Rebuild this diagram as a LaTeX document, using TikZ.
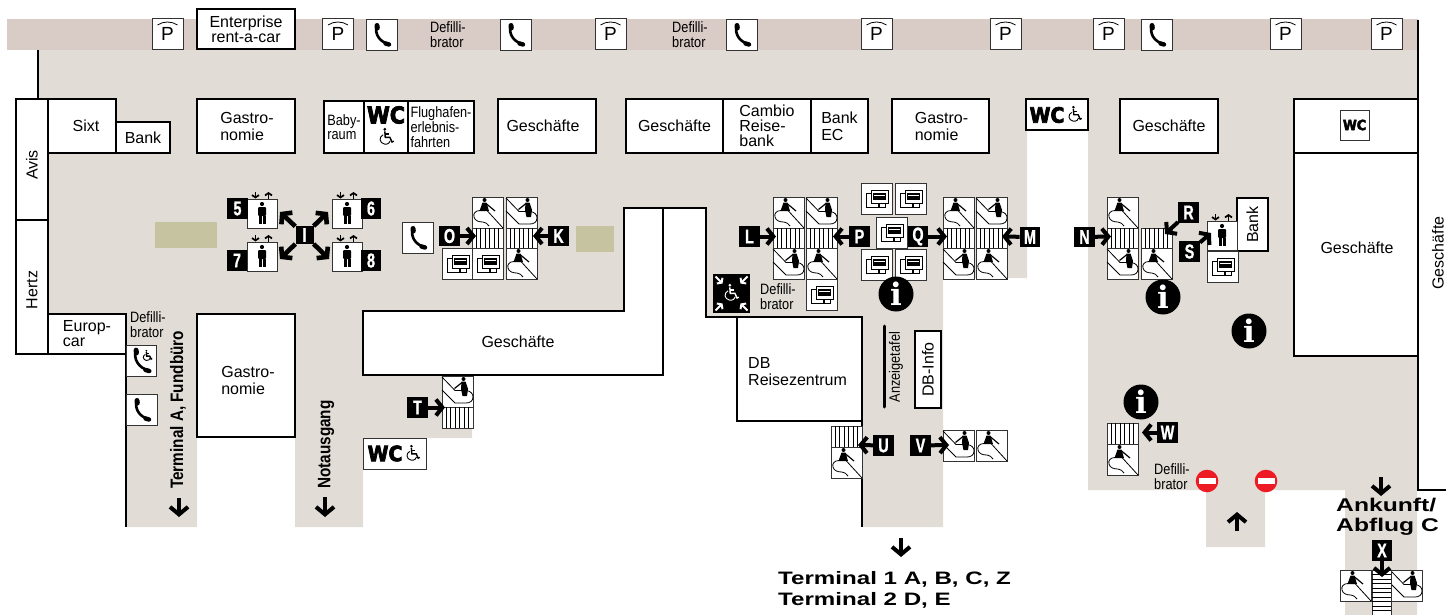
\documentclass[tikz,border=0pt]{standalone}
\usepackage{fontspec}
\setmainfont{Liberation Sans}
\newfontfamily\narrowfont[FakeStretch=0.85]{Liberation Sans}
\newfontfamily\tagfont[FakeStretch=0.72,FakeBold=1]{Liberation Sans}
\newfontfamily\widefont[FakeStretch=1.34]{Liberation Sans}
\newfontfamily\wcfont[FakeBold=3.5,FakeStretch=0.9]{DejaVu Sans}
\newfontfamily\infofont{DejaVu Serif}
\usetikzlibrary{arrows.meta}
\usetikzlibrary{calc}
\definecolor{floorcol}{HTML}{E1DDD6}
\definecolor{bandcol}{HTML}{D9CBC6}
\definecolor{olivecol}{HTML}{C6C3A1}
\definecolor{stopcol}{HTML}{ED1C24}
\tikzset{
	wall/.style={line width=1.6pt},
	iconbox/.style={draw=black!80,line width=.9pt,fill=white},
	shop/.style={draw,line width=1.6pt,fill=white,inner sep=0pt,align=left,font=\fontsize{16}{17}\selectfont},
	plain/.style={inner sep=0pt,align=left,font=\fontsize{16}{17}\selectfont},
	thin text/.style={inner sep=0pt,align=left,font=\narrowfont\fontsize{15}{15}\selectfont},
	defi/.style={thin text,anchor=west},
	tag/.style={fill=black,text=white,inner sep=0pt,minimum size=20.5pt,font=\tagfont\bfseries\fontsize{20}{20}\selectfont},
	tagarrow/.style={line width=4pt,-{Straight Barb[length=6.5pt,width=16pt]}},
	bigarrow/.style={line width=4pt,-{Straight Barb[length=7.5pt,width=18pt]}},
	pbox/.style={draw=black!80,line width=.9pt,fill=white,inner sep=0pt,minimum size=31pt,font=\fontsize{19}{19}\selectfont},
	wcsign/.style={inner sep=0pt,font=\wcfont\bfseries\fontsize{23}{23}\selectfont},
	infospot/.style={circle,fill=black,text=white,inner sep=0pt,minimum size=35pt,font=\infofont\bfseries\fontsize{31}{31}\selectfont},
	pics/esca/.style={code={
		\draw[iconbox] (0,0) rectangle (31,31);
		\draw[line width=.8pt] (31,31) -- (15,13.5) -- (8,13.5) .. controls (3,13.5) and (1,17) .. (2,20) .. controls (3,24) and (7,25) .. (11,25) .. controls (14,25) and (15,27) .. (17,29);
		\fill (12.5,3) circle[radius=2];
		\fill (10.5,5.5) -- (14.5,5.5) -- (17,14) -- (7.5,14) -- cycle;
		\draw[line width=1.2pt] (14,6.5) -- (23,14);
	}},
	pics/escb/.style={code={
		\draw[iconbox] (0,0) rectangle (31,31);
		\draw[line width=.8pt] (0,1) -- (13,14.5) -- (24,14.5) .. controls (29,15) and (31,18) .. (31,21) .. controls (31,25) and (28,27) .. (24,27) -- (13,27) -- (0,14);
		\fill (21.5,3) circle[radius=2];
		\draw[line width=1.2pt] (20,6.5) -- (12.5,12.5);
		\fill (19.5,5.5) -- (23.5,5.5) -- (26,13) -- (25,20) -- (20.5,20) -- (19,13) -- cycle;
	}},
	pics/stair/.style={code={
		\draw[iconbox] (0,0) rectangle (31,21);
		\foreach \s in {4.4,8.8,...,27} \draw[line width=.8pt] (\s,0) -- (\s,21);
	}},
	pics/stairh/.style={code={
		\draw[iconbox] (0,0) rectangle (19,45);
		\foreach \s in {4.5,9,...,41} \draw[line width=1pt] (0,\s) -- (19,\s);
	}},
	pics/ticket/.style={code={
		\draw[iconbox] (0,0) rectangle (31,31);
		\draw[line width=.8pt] (5,10) rectangle (18,24);
		\draw[line width=.8pt] (17,20) rectangle (24,24);
		\draw[line width=.8pt,fill=white] (10,7) rectangle (27,20);
		\fill (12,10) rectangle (25,17);
		\fill[white] (13,12) rectangle (24,12.8);
	}},
	pics/handset/.style={code={
		\draw[line width=2.6pt,line cap=round] (11,6) .. controls (8,14) and (13,23) .. (23,25);
		\draw[line width=5pt,line cap=round] (11,6.5) -- (11.3,9);
		\draw[line width=4.4pt,line cap=round] (19.5,24.5) -- (23,25.5);
	}},
	pics/phone/.style={code={
		\draw[iconbox] (0,0) rectangle (31,31);
		\pic {handset};
	}},
	pics/chair/.style={code={
		\fill (8,1.5) circle[radius=1.8];
		\draw[line width=1.4pt] (8,4) -- (8.5,11) -- (14,11) -- (16.5,16.5) -- (18.5,15.5);
		\draw[line width=1.2pt] (8,7) -- (13,7);
		\draw[line width=.9pt] (6,8) .. controls (1,10) and (1,18) .. (8,19) .. controls (12,19.5) and (14,17) .. (14.5,15);
	}},
	pics/lift/.style={code={
		\draw[iconbox] (0,0) rectangle (30,29);
		\fill (15,5) circle[radius=2.1];
		\fill[rounded corners=1pt] (11,8) rectangle (19,17);
		\fill (11.5,17) rectangle (14.5,25);
		\fill (15.5,17) rectangle (18.5,25);
		\draw[line width=1.7pt,-{Straight Barb[length=2.4pt,width=7pt]}] (8.5,-7) -- (8.5,-.5);
		\draw[line width=1.7pt,-{Straight Barb[length=2.4pt,width=7pt]}] (21.5,-.5) -- (21.5,-7);
	}},
	pics/stopsign/.style={code={
		\fill[stopcol] (0,0) circle[radius=11.3];
		\fill[white] (-8.5,-2.7) rectangle (8.5,2.7);
	}},
}
\begin{document}
\begin{tikzpicture}[x=1pt,y=-1pt]
	\useasboundingbox (0,0) rectangle (1446,615);
	
	% floor and band
	\fill[floorcol] (38,50) -- (1418,50) -- (1418,490) -- (1417,490) -- (1417,615) -- (1345,615) -- (1345,490) -- (1265,490) -- (1265,547) -- (1206,547) -- (1206,490) -- (1088,490) -- (1088,130) -- (1027,130) -- (1027,278) -- (943,278) -- (943,527) -- (862,527) -- (862,421) -- (737,421) -- (737,317) -- (706,317) -- (706,208) -- (663,208) -- (663,375) -- (472,375) -- (472,438) -- (363,438) -- (363,527) -- (295,527) -- (295,437) -- (197,437) -- (197,527) -- (126,527) -- (126,354) -- (48,354) -- (48,99) -- (38,99) -- cycle;
	\fill[bandcol] (7,19) rectangle (1418,50);
	\fill[olivecol] (155,222) rectangle (217,248);
	\fill[olivecol] (576,226) rectangle (614,252);
	
	% walls
	\draw[wall] (38,50) -- (38,99);
	\draw[wall] (126,354) -- (126,527);
	\draw[wall] (663,208) -- (706,208) -- (706,317) -- (737,317);
	\draw[wall] (862,421) -- (862,527);
	\draw[wall] (1418,20) -- (1418,490) -- (1446,490);
	\draw[wall,fill=white] (363,311) -- (624,311) -- (624,208) -- (663,208) -- (663,375) -- (363,375) -- cycle;
	\draw[line width=3pt,line cap=round] (884,326) -- (884,407);
	
	% shops
	\node[shop,minimum width=98,minimum height=40,align=center,font=\fontsize{16}{15}\selectfont] (enterprise) at (246,29) {Enterprise\\rent-a-car};
	\node[shop,minimum width=121,minimum height=32,rotate=90] (avis) at (32,159.5) {Avis\hspace*{11pt}};
	\node[shop,minimum width=134,minimum height=32,rotate=90] (hertz) at (32,287) {Hertz\hspace*{6pt}};
	\node[shop,minimum width=68,minimum height=54] (sixt) at (82,126) {\hspace*{8pt}Sixt};
	\node[shop,minimum width=54,minimum height=31] (bank) at (143,137.5) {Bank};
	\node[shop,minimum width=98,minimum height=54] (gastroa) at (246,126) {\hspace*{2pt}Gastro-\\\hspace*{2pt}nomie};
	\node[shop,minimum width=40,minimum height=52,font=\narrowfont\fontsize{15}{14}\selectfont] (baby) at (344,127) {Baby-\\raum};
	\node[shop,minimum width=44,minimum height=52] (wcmain) at (386,127) {};
	\node[shop,minimum width=66,minimum height=52,font=\narrowfont\fontsize{15}{15}\selectfont] (flug) at (441,127) {Flughafen-\\erlebnis-\\fahrten};
	\node[shop,minimum width=98,minimum height=54] (shopa) at (547,126) {Geschäfte\hspace*{8pt}};
	\node[shop,minimum width=97,minimum height=54] (shopb) at (674.5,126) {Geschäfte};
	\node[shop,minimum width=88,minimum height=54,font=\fontsize{16}{15}\selectfont] (cambio) at (767,126) {Cambio\\Reise-\\bank};
	\node[shop,minimum width=57,minimum height=54] (bankec) at (839.5,126) {Bank\\EC};
	\node[shop,minimum width=97,minimum height=54] (gastrob) at (940.5,126) {\hspace*{2pt}Gastro-\\\hspace*{2pt}nomie};
	\node[shop,minimum width=62,minimum height=31] (wcd) at (1057,114.5) {};
	\node[shop,minimum width=98,minimum height=54] (shopc) at (1169,126) {Geschäfte};
	\node[shop,minimum width=124,minimum height=54] (wce) at (1356,126) {};
	\node[shop,minimum width=124,minimum height=203] (shopd) at (1356,254.5) {};
	\node[plain] (shopdtext) at (1357,248) {Geschäfte};
	\node[shop,minimum width=78,minimum height=40,font=\fontsize{16}{15}\selectfont] (europ) at (87,334) {Europ-\\car};
	\node[shop,minimum width=98,minimum height=123] (gastroc) at (246,375.5) {};
	\node[plain] (gastroctext) at (248,380) {Gastro-\\nomie};
	\node[plain] (shopmid) at (518,342) {Geschäfte};
	\node[shop,minimum width=125,minimum height=104] (dbzentrum) at (799.5,369) {};
	\node[plain,anchor=west] (dbtext) at (748,372) {DB\\Reisezentrum};
	\node[shop,minimum width=77,minimum height=26,rotate=90] (dbinfo) at (928,369.5) {DB-Info};
	\node[shop,minimum width=53,minimum height=31,rotate=90] (bankb) at (1252.5,224.5) {Bank};
	\node[plain,rotate=90] (shope) at (1438,253) {Geschäfte};
	\node[thin text,rotate=90] (anzeige) at (896,367) {Anzeigetafel};
	
	% WC signs
	\node[wcsign] (wca) at (386,115) {WC};
	\pic[scale=.85] at (378,128) {chair};
	\node[wcsign,font=\wcfont\bfseries\fontsize{21}{21}\selectfont] (wcb) at (1047,115) {WC};
	\pic[scale=.8] at (1067,106) {chair};
	\node[pbox,minimum width=29,minimum height=30] (wcc) at (1354.5,125) {\wcfont\bfseries\fontsize{14}{14}\selectfont WC};
	\node[shop,draw=black!80,line width=.9pt,minimum width=63,minimum height=31] (wcf) at (394.5,453.5) {};
	\node[wcsign,font=\wcfont\bfseries\fontsize{21}{21}\selectfont] (wcg) at (385,453.5) {WC};
	\pic[scale=.8] at (405,445) {chair};
	
	% parking and phones along the band
	\foreach \x [count=\i] in {167.5,338,610.5,876.5,1005.5,1108.5,1285.5,1386.5} {
		\node[pbox] (park\i) at (\x,34) {\raisebox{-3pt}{P}};
		\draw[line width=.8pt] ($(park\i.center)+(-10,-9)$) .. controls ($(park\i.center)+(-4,-13)$) and ($(park\i.center)+(4,-13)$) .. ($(park\i.center)+(10,-9)$);
	}
	\foreach \x in {366,500,726,1141}
		\pic at (\x,19) {phone};
	\pic at (402,222) {phone};
	\pic at (126,394) {phone};
	\draw[iconbox] (126,345) rectangle (156,376);
	\pic[scale=1.1] at (124,343) {handset};
	\pic[scale=.55] at (142,350) {chair};
	
	\node[defi] (defia) at (430,34.5) {Defilli-\\brator};
	\node[defi] (defib) at (672,35) {Defilli-\\brator};
	\node[defi] (defic) at (130,324.5) {Defilli-\\brator};
	\node[defi] (defid) at (760,297) {Defilli-\\brator};
	\node[defi] (defie) at (1154,477) {Defilli-\\brator};
	
	% lifts
	\pic at (247,199) {lift};
	\pic at (332,199) {lift};
	\pic at (247,242) {lift};
	\pic at (332,242) {lift};
	\pic at (1207,221) {lift};
	
	% escalators and stairs
	\pic at (472,197) {esca};
	\pic at (506,197) {escb};
	\pic at (472,228) {stair};
	\pic at (506,228) {stair};
	\pic at (442,248) {ticket};
	\pic at (472,248) {ticket};
	\pic at (506,248) {esca};
	
	\pic at (773,197) {esca};
	\pic at (806,197) {escb};
	\pic at (773,228) {stair};
	\pic at (806,228) {stair};
	\pic at (773,248) {escb};
	\pic at (806,248) {esca};
	
	\pic at (943,197) {esca};
	\pic at (976,197) {escb};
	\pic at (943,228) {stair};
	\pic at (976,228) {stair};
	\pic at (943,248) {escb};
	\pic at (976,248) {esca};
	
	\pic at (1107,197) {esca};
	\pic at (1107,228) {stair};
	\pic at (1141,228) {stair};
	\pic at (1107,248) {escb};
	\pic at (1141,248) {esca};
	
	\pic at (442,376) {escb};
	\pic at (442,407) {stair};
	\pic at (831,426) {stair};
	\pic at (831,447) {esca};
	\pic at (943,430) {escb};
	\pic at (976,430) {esca};
	\pic at (1107,423) {stair};
	\pic at (1107,444) {esca};
	\pic at (1340,570) {esca};
	\pic at (1391,570) {escb};
	\pic at (1372,570) {stairh};
	
	% ticket machines
	\pic at (861,183) {ticket};
	\pic at (895,183) {ticket};
	\pic at (876,217) {ticket};
	\pic at (861,249) {ticket};
	\pic at (895,249) {ticket};
	\pic at (806,279) {ticket};
	\pic at (1207,251) {ticket};
	
	% meeting point
	\node[fill=black,inner sep=0pt,minimum width=37,minimum height=39] (meet) at (731.5,293.5) {};
	\foreach \dx/\dy in {-1/-1,1/-1,-1/1,1/1}
		\draw[white,line width=2pt,-{Straight Barb[length=2.8pt,width=8pt]}] ($(meet.center)+(\dx*16,\dy*17)$) -- ($(meet.center)+(\dx*9,\dy*10)$);
	\pic[white,scale=.85] at (723,284) {chair};
	
	% level tags and arrows
	\coordinate (aO) at (476,236);
	\coordinate (aK) at (533,236);
	\coordinate (aL) at (776,236.5);
	\coordinate (aP) at (833,236.5);
	\coordinate (aQ) at (947,236.5);
	\coordinate (aM) at (1002,236.5);
	\coordinate (aN) at (1111,236.5);
	\coordinate (aR) at (1165,234);
	\coordinate (aS) at (1211,233);
	\coordinate (aT) at (445,407.5);
	\coordinate (aU) at (858,445);
	\coordinate (aV) at (949,445);
	\coordinate (aW) at (1142,432.5);
	\coordinate (aX) at (1382,577);
	
	\node[tag] (t5) at (237.5,208.5) {5};
	\node[tag] (t6) at (371,208.5) {6};
	\node[tag] (t7) at (237,260.5) {7};
	\node[tag] (t8) at (371,260.5) {8};
	\node[tag] (tO) at (449.5,236) {O};
	\node[tag] (tK) at (558.5,236) {K};
	\node[tag] (tL) at (749.5,236.5) {L};
	\node[tag] (tP) at (859.5,236.5) {P};
	\node[tag] (tQ) at (918,236.5) {Q};
	\node[tag] (tM) at (1030,237) {M};
	\node[tag] (tN) at (1084.5,237) {N};
	\node[tag] (tR) at (1188.5,212.5) {R};
	\node[tag] (tS) at (1189.5,251.5) {S};
	\node[tag] (tT) at (417.5,407.5) {T};
	\node[tag] (tU) at (883.5,445.5) {U};
	\node[tag] (tV) at (920.5,445.5) {V};
	\node[tag] (tW) at (1167.5,432.5) {W};
	\node[tag] (tX) at (1382,550.5) {X};
	\foreach \t/\a in {tO/aO,tK/aK,tL/aL,tP/aP,tQ/aQ,tM/aM,tN/aN,tR/aR,tS/aS,tT/aT,tU/aU,tV/aV,tW/aW,tX/aX}
		\draw[tagarrow] (\t) -- (\a);
	
	% the lift hub
	\node[tag,minimum size=18pt] (tI) at (304.5,235) {I};
	\coordinate (hub1) at (280,212);
	\coordinate (hub2) at (328,212);
	\coordinate (hub3) at (280,259);
	\coordinate (hub4) at (329,259);
	\foreach \a in {hub1,hub2,hub3,hub4}
		\draw[tagarrow,line width=4.6pt] (tI) -- (\a);
	
	% information and no entry
	\node[infospot] (infoa) at (896,294) {i};
	\node[infospot] (infob) at (1163,297) {i};
	\node[infospot] (infoc) at (1249,331) {i};
	\node[infospot] (infod) at (1141,402) {i};
	\pic at (1207,481) {stopsign};
	\pic at (1266,481) {stopsign};
	
	% way out arrows and their texts
	\coordinate (wa1) at (179,498);
	\coordinate (wa2) at (179,517);
	\coordinate (wb1) at (325,497);
	\coordinate (wb2) at (325,517);
	\coordinate (wc1) at (901,538);
	\coordinate (wc2) at (901,557);
	\coordinate (wd1) at (1237,531);
	\coordinate (wd2) at (1237,512);
	\coordinate (we1) at (1381,477);
	\coordinate (we2) at (1381,496);
	\foreach \a/\b in {wa1/wa2,wb1/wb2,wc1/wc2,wd1/wd2,we1/we2}
		\draw[bigarrow] (\a) -- (\b);
	
	\node[plain,rotate=90,anchor=west,font=\narrowfont\bfseries\fontsize{18}{18}\selectfont] (termA) at (178,489) {Terminal A, Fundbüro};
	\node[plain,rotate=90,anchor=west,font=\narrowfont\bfseries\fontsize{18}{18}\selectfont] (notaus) at (326,489) {Notausgang};
	\node[plain,anchor=west,font=\widefont\bfseries\fontsize{18}{21}\selectfont] (termB) at (778,589.5) {Terminal 1 A, B, C, Z\\Terminal 2 D, E};
	\node[plain,anchor=west,font=\widefont\bfseries\fontsize{18.4}{20}\selectfont] (ankunft) at (1336,517) {Ankunft/\\Abflug C};
	
\end{tikzpicture}
\end{document}
